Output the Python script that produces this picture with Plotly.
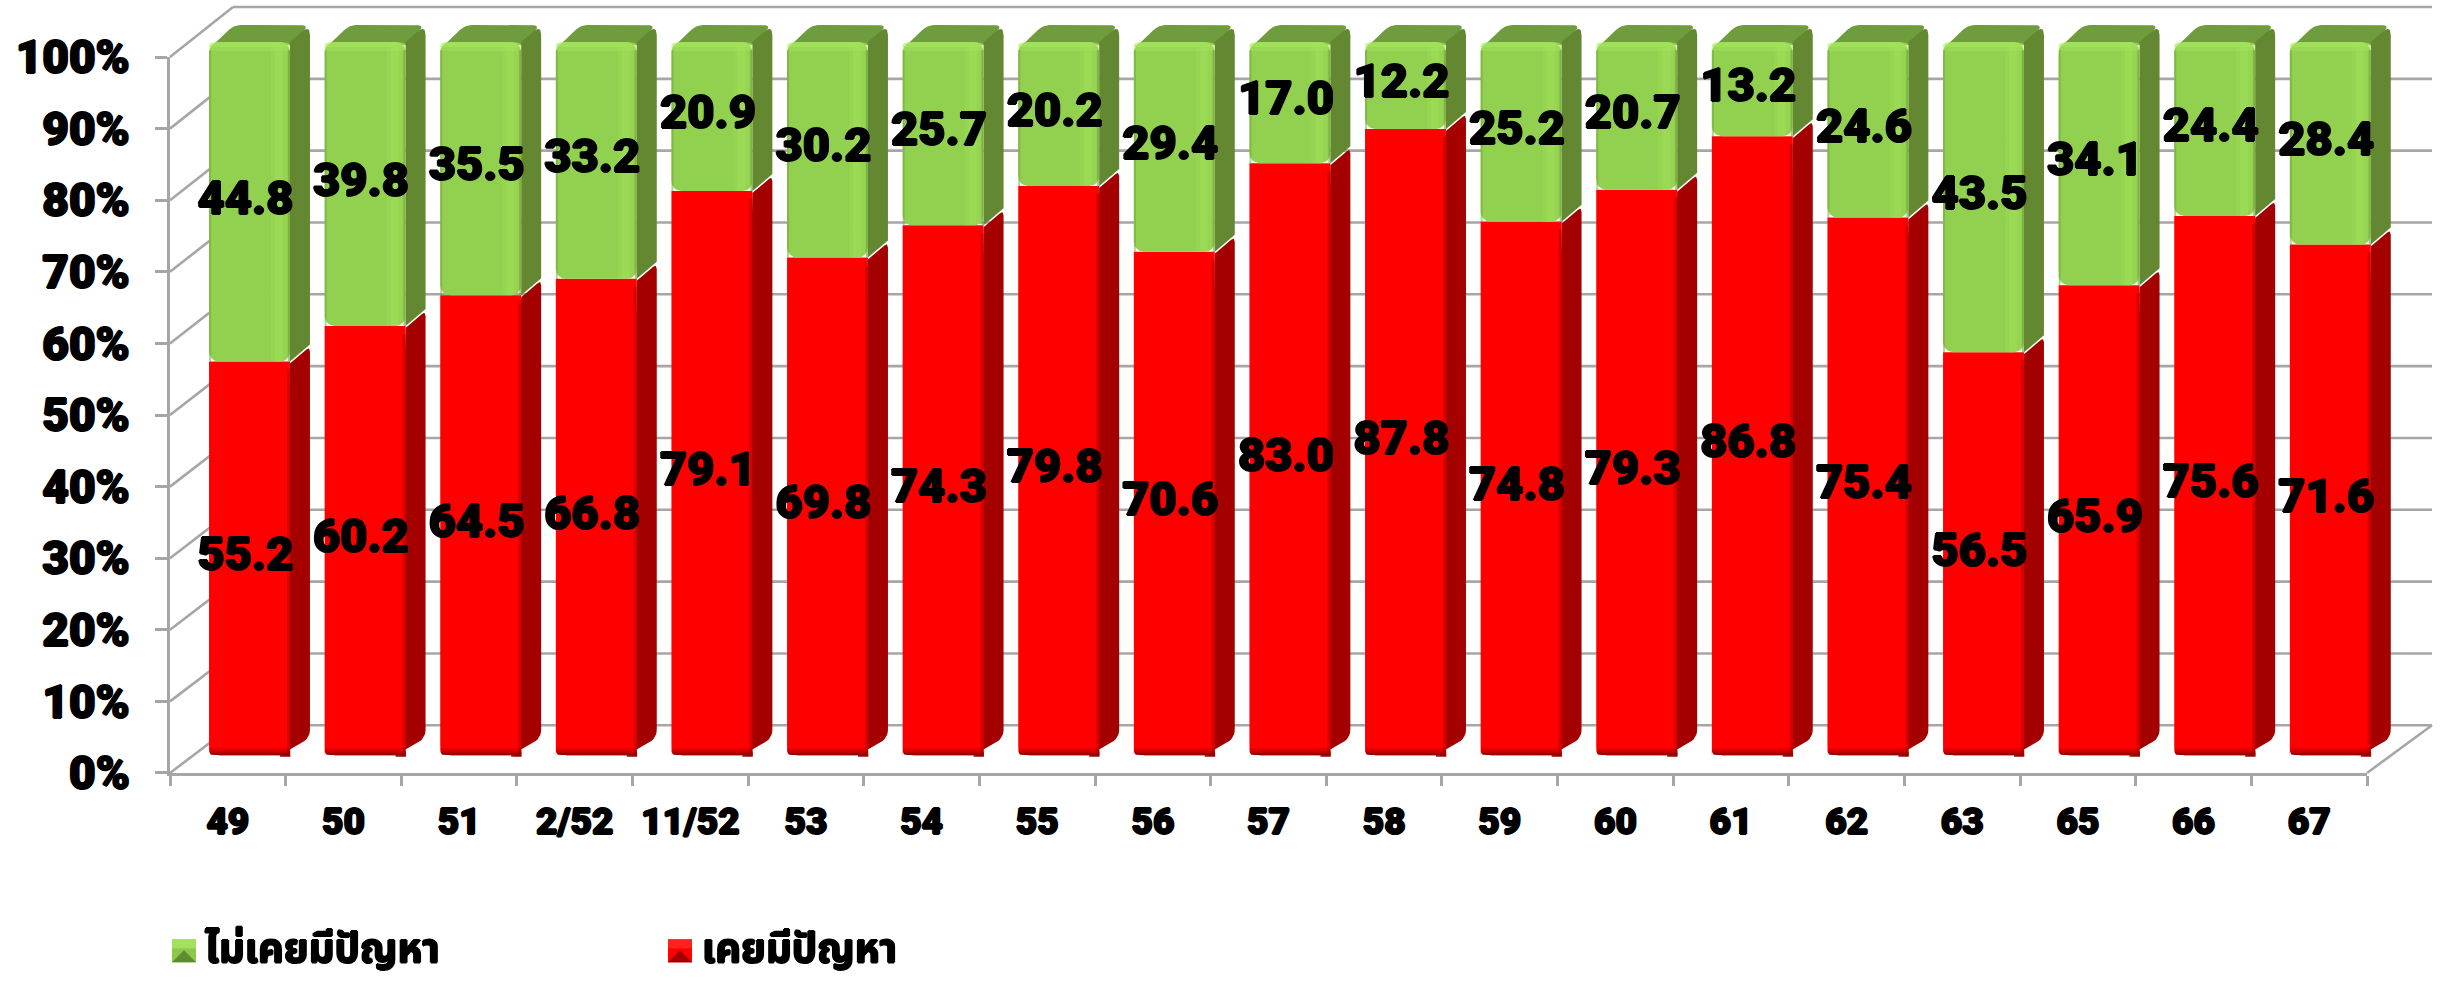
import plotly.graph_objects as go

categories = ["49", "50", "51", "2/52", "11/52", "53", "54", "55", "56", "57",
              "58", "59", "60", "61", "62", "63", "65", "66", "67"]
had_problem = [55.2, 60.2, 64.5, 66.8, 79.1, 69.8, 74.3, 79.8, 70.6, 83.0,
               87.8, 74.8, 79.3, 86.8, 75.4, 56.5, 65.9, 75.6, 71.6]
no_problem = [44.8, 39.8, 35.5, 33.2, 20.9, 30.2, 25.7, 20.2, 29.4, 17.0,
              12.2, 25.2, 20.7, 13.2, 24.6, 43.5, 34.1, 24.4, 28.4]
y_ticks = [0, 10, 20, 30, 40, 50, 60, 70, 80, 90, 100]
legend_labels = ["ไม่เคยมีปัญหา", "เคยมีปัญหา"]

W, H = 2443, 982
L, R, T, B = 170, 2432, 7, 772.7       # plot box in pixels
FRONT_R, FRONT_T = 2367, 57            # front axes end
UX, UY = 115.6, 7.13                   # pixels per bar slot / per percent
C0, Y0 = 249.5, 755                    # first bar centre, bar-plane zero
BAR_W = 0.70
DX, DY = 20 / UX, 17 / UY              # bar depth
AXIS = "#a6a6a6"
FONT = "Roboto, 'Noto Sans', sans-serif"
THAI = "'Noto Sans Thai', 'Liberation Sans', 'DejaVu Sans', sans-serif"
HEAVY = "1px 0 0 #000, -1px 0 0 #000, 0 1px 0 #000, 0 -1px 0 #000"


def px(x):
    return (x - L) / (R - L)


def py(y):
    return (B - y) / (B - T)


def rounded(points, radii, n=6):
    """Polygon in data units with some corners rounded (radius in pixels)."""
    P = [(a * UX, b * UY) for a, b in points]
    out = []
    m = len(P)
    for k in range(m):
        p0, p1, p2 = P[k - 1], P[k], P[(k + 1) % m]
        r = radii[k]
        if r == 0:
            out.append(p1)
            continue
        d1 = ((p0[0] - p1[0]) ** 2 + (p0[1] - p1[1]) ** 2) ** .5
        d2 = ((p2[0] - p1[0]) ** 2 + (p2[1] - p1[1]) ** 2) ** .5
        a = (p1[0] + (p0[0] - p1[0]) * min(r / d1, .5), p1[1] + (p0[1] - p1[1]) * min(r / d1, .5))
        b = (p1[0] + (p2[0] - p1[0]) * min(r / d2, .5), p1[1] + (p2[1] - p1[1]) * min(r / d2, .5))
        for s in range(n + 1):
            t = s / n
            out.append(((1 - t) ** 2 * a[0] + 2 * t * (1 - t) * p1[0] + t ** 2 * b[0],
                        (1 - t) ** 2 * a[1] + 2 * t * (1 - t) * p1[1] + t ** 2 * b[1]))
    return [(a / UX, b / UY) for a, b in out]


def poly_trace(polys, color, xa, ya):
    xs, ys = [], []
    for poly in polys:
        xs += [p[0] for p in poly] + [poly[0][0], None]
        ys += [p[1] for p in poly] + [poly[0][1], None]
    return go.Scatter(x=xs, y=ys, mode="lines", fill="toself", fillcolor=color,
                      line=dict(width=0), hoverinfo="skip", showlegend=False,
                      xaxis=xa, yaxis=ya)


n = len(categories)
idx = list(range(n))
hw = BAR_W / 2

fig = go.Figure()

# Front axes: carries the tick labels
fig.add_trace(go.Scatter(x=categories, y=had_problem, mode="markers", opacity=0,
                         hoverinfo="skip", showlegend=False, xaxis="x", yaxis="y"))

# Depth faces, under the front faces
red_side = [rounded([(i + hw - 10 / UX, 0), (i + hw + DX, DY), (i + hw + DX, v + DY - 2 / UY), (i + hw, v - 2 / UY)],
                    [0, 9, 5, 0]) for i, v in zip(idx, had_problem)]
green_side = [rounded([(i + hw, v), (i + hw + DX, v + DY), (i + hw + DX, 100 + DY), (i + hw, 100)],
                      [0, 0, 10, 0]) for i, v in zip(idx, had_problem)]
green_top = [rounded([(i - hw + 4 / UX, 100 - 3 / UY), (i - hw + DX + 5 / UX, 100 + DY),
                      (i + hw + DX, 100 + DY), (i + hw, 100 - 3 / UY)],
                     [3, 7, 10, 0]) for i in idx]
fig.add_trace(poly_trace(red_side, "#a40000", "x3", "y3"))
fig.add_trace(poly_trace(green_top, "#6f9c3c", "x3", "y3"))
fig.add_trace(poly_trace(green_side, "#648732", "x3", "y3"))

# Front faces
fig.add_trace(go.Bar(x=idx, y=had_problem, width=BAR_W, name=legend_labels[1],
                     marker=dict(color="#ff0000", line=dict(width=0)),
                     hoverinfo="skip", showlegend=False, xaxis="x4", yaxis="y4"))
fig.add_trace(go.Bar(x=idx, y=no_problem, base=had_problem, width=BAR_W, name=legend_labels[0],
                     marker=dict(color="#92d050", line=dict(width=0)),
                     hoverinfo="skip", showlegend=False, xaxis="x4", yaxis="y4"))


def band(xa, xb, lo, hi):
    return [(xa, lo), (xb, lo), (xb, hi), (xa, hi)]


# Bevel highlights on the green fronts
for a, b, col in [(19, 3, "rgba(170,235,95,0.18)"), (15, 7, "rgba(170,235,95,0.28)")]:
    fig.add_trace(poly_trace([band(i + hw - a / UX, i + hw - b / UX, v, 100 - 5 / UY)
                              for i, v in zip(idx, had_problem)], col, "x4", "y4"))
for t, col in [(9, "rgba(170,235,95,0.3)"), (5, "rgba(170,235,95,0.45)")]:
    fig.add_trace(poly_trace([rounded(band(i - hw, i + hw, 100 - t / UY, 100), [0, 0, 10, 10]) for i in idx],
                             col, "x4", "y4"))
fig.add_trace(poly_trace([band(i - hw, i - hw + 2 / UX, v, 100 - 8 / UY) for i, v in zip(idx, had_problem)],
                         "rgba(110,160,60,0.5)", "x4", "y4"))
fig.add_trace(poly_trace([band(i + hw - 2 / UX, i + hw, v, 100 - 8 / UY) for i, v in zip(idx, had_problem)],
                         "rgba(110,160,60,0.6)", "x4", "y4"))

# Bevel on the red fronts
fig.add_trace(poly_trace([band(i + hw - 3 / UX, i + hw, 0, v - 8 / UY) for i, v in zip(idx, had_problem)],
                         "rgba(170,0,0,0.45)", "x4", "y4"))
for t, col in [(7, "rgba(120,0,0,0.22)"), (4, "rgba(120,0,0,0.35)"), (2, "rgba(110,0,0,0.5)")]:
    fig.add_trace(poly_trace([band(i - hw, i + hw, 0, t / UY) for i in idx], col, "x4", "y4"))

# Rounded lower corners of the red fronts
r_x, r_y = 10 / UX, 10 / UY
masks = []
for i in idx:
    for sx, edge in [(-1, i - hw), (1, i + hw)]:
        c = rounded([(edge - sx * r_x, 0), (edge, 0), (edge, r_y)], [0, 10, 0])
        masks.append(c + [(edge + sx * 0.004, r_y), (edge + sx * 0.004, -0.2), (edge - sx * r_x, -0.2)])
fig.add_trace(poly_trace([m for k, m in enumerate(masks) if k % 2 == 0], "#ffffff", "x4", "y4"))
fig.add_trace(poly_trace([m for k, m in enumerate(masks) if k % 2 == 1],
                         "#a40000", "x4", "y4"))

# Data labels at the middle of each segment
label_shift = 4 / UX
label_font = dict(family=FONT, size=47, color="#000000", weight=900, shadow=HEAVY)
fig.add_trace(go.Scatter(x=[i - label_shift for i in idx],
                         y=[v / 2 for v in had_problem],
                         text=[f"{v:.1f}" for v in had_problem], mode="text",
                         textfont=label_font,
                         hoverinfo="skip", showlegend=False, cliponaxis=False, xaxis="x4", yaxis="y4"))
fig.add_trace(go.Scatter(x=[i - label_shift for i in idx],
                         y=[r + g / 2 for r, g in zip(had_problem, no_problem)],
                         text=[f"{v:.1f}" for v in no_problem], mode="text",
                         textfont=label_font,
                         hoverinfo="skip", showlegend=False, cliponaxis=False, xaxis="x4", yaxis="y4"))

# Back wall, floor and side wall lines
shapes = []


def seg(x0, y0, x1, y1):
    shapes.append(dict(type="line", xref="paper", yref="paper", layer="below",
                       x0=px(x0), y0=py(y0), x1=px(x1), y1=py(y1),
                       line=dict(color=AXIS, width=2.6)))


BACK_L, BACK_B, BACK_UNIT = 233, 725, 7.18
FRONT_UNIT = (B - FRONT_T) / 100
for v in y_ticks:
    back_y = BACK_B - BACK_UNIT * v
    seg(BACK_L, back_y, R, back_y)
    seg(L, B - FRONT_UNIT * v, BACK_L, back_y)
seg(FRONT_R, B, R, BACK_B)


def swatch(x, light, mid, dark):
    x0, x1, y0, y1 = x, x + 24, 939, 962
    shapes.append(dict(type="rect", xref="paper", yref="paper", x0=px(x0), x1=px(x1),
                       y0=py(y0), y1=py(y1), fillcolor=mid, line=dict(width=0)))
    shapes.append(dict(type="rect", xref="paper", yref="paper", x0=px(x0), x1=px(x1),
                       y0=py(y0), y1=py(y0 + 9), fillcolor=light, line=dict(width=0)))
    pts = [(x0 + 12, y0 + 11), (x1, y1), (x0, y1)]
    path = "M" + " L".join(f"{px(a)},{py(b)}" for a, b in pts) + " Z"
    shapes.append(dict(type="path", xref="paper", yref="paper", path=path,
                       fillcolor=dark, line=dict(width=0)))


swatch(172, "#a6e05f", "#8cc84b", "#5f8a32")
swatch(668, "#ff2020", "#ff0000", "#a40000")

annotations = [
    dict(text=f"<b>{legend_labels[0]}</b>", xref="paper", yref="paper", x=px(203), y=py(950),
         xanchor="left", yanchor="middle", showarrow=False,
         font=dict(family=THAI, size=40, color="#000000", shadow=HEAVY)),
    dict(text=f"<b>{legend_labels[1]}</b>", xref="paper", yref="paper", x=px(700), y=py(950),
         xanchor="left", yanchor="middle", showarrow=False,
         font=dict(family=THAI, size=40, color="#000000", shadow=HEAVY)),
]

x_range = [(L - C0) / UX, (R - C0) / UX]
y_range = [(Y0 - B) / UY, (Y0 - T) / UY]
hidden_x = dict(domain=[0, 1], range=x_range, visible=False, fixedrange=True, automargin=False)
hidden_y = dict(domain=[0, 1], range=y_range, visible=False, fixedrange=True, automargin=False)

fig.update_layout(
    width=W, height=H, autosize=False,
    paper_bgcolor="#ffffff", plot_bgcolor="rgba(0,0,0,0)",
    margin=dict(l=L, r=W - R, t=T, b=H - B, pad=0),
    barmode="overlay", barcornerradius=10, showlegend=False,
    shapes=shapes, annotations=annotations,
    xaxis=dict(domain=[0, px(FRONT_R)], type="category", categoryorder="array", categoryarray=categories,
               range=[-0.5, n - 0.5], anchor="y", showgrid=False, zeroline=False, automargin=False,
               showline=True, linecolor=AXIS, linewidth=3,
               ticks="outside", tickson="boundaries", ticklen=10, tickwidth=3, tickcolor=AXIS,
               ticklabelstandoff=14,
               tickfont=dict(family=FONT, size=37, color="#000000", weight=900, shadow=HEAVY)),
    yaxis=dict(domain=[0, py(FRONT_T)], range=[0, 100], anchor="x", tickmode="array", tickvals=y_ticks,
               ticktext=[f"{v}%" for v in y_ticks], automargin=False,
               showgrid=False, zeroline=False, showline=True, linecolor=AXIS, linewidth=3,
               ticks="outside", ticklen=12, tickwidth=3, tickcolor=AXIS, ticklabelstandoff=16,
               tickfont=dict(family=FONT, size=46, color="#000000", weight=900, shadow=HEAVY)),
    xaxis3=dict(anchor="y3", **hidden_x), yaxis3=dict(anchor="x3", **hidden_y),
    xaxis4=dict(anchor="y4", **hidden_x), yaxis4=dict(anchor="x4", **hidden_y),
)

fig.write_html("out.html", config=dict(displayModeBar=False),
               post_script="document.body.style.margin='0';document.body.style.overflow='hidden';")
